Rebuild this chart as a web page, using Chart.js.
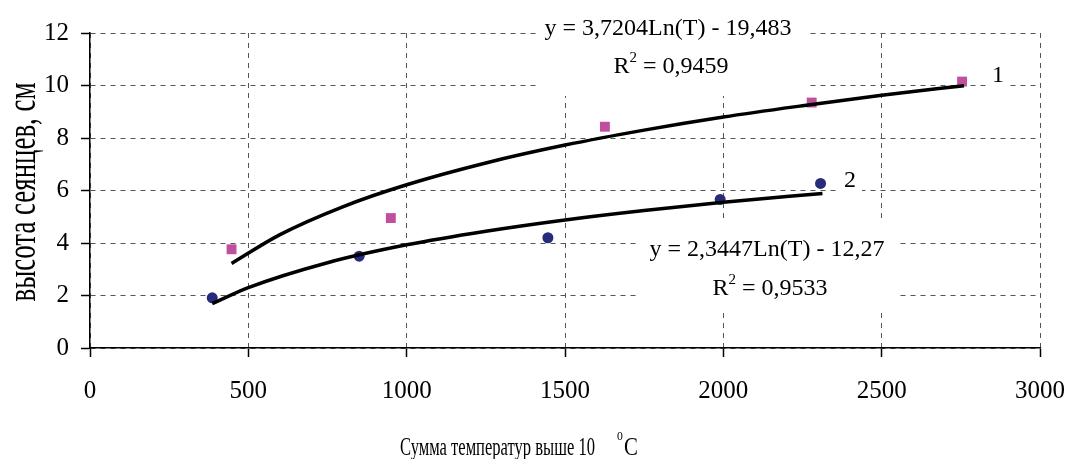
<!DOCTYPE html>
<html>
<head>
<meta charset="utf-8">
<script src="https://cdn.jsdelivr.net/npm/chart.js@4/dist/chart.umd.min.js"></script>
<style>
  html, body { margin: 0; padding: 0; background: #fff; }
  canvas { display: block; }
</style>
</head>
<body>
<canvas id="chart" width="1067" height="459"></canvas>
<script>
// Данные: сумма температур (T) и высота сеянцев, см
const temp1 = [447, 950, 1626, 2279, 2754];
const height1 = [3.76, 4.95, 8.43, 9.35, 10.15];
const temp2 = [386, 850, 1446, 1990, 2307];
const height2 = [1.91, 3.50, 4.20, 5.66, 6.27];

// Линии тренда
const trendT1 = [447, 600, 800, 1000, 1250, 1500, 1750, 2000, 2250, 2500, 2760];
const trendH1 = [3.22, 4.32, 5.39, 6.22, 7.05, 7.73, 8.30, 8.80, 9.23, 9.63, 9.99];
const trendT2 = [386, 500, 750, 1000, 1250, 1500, 1750, 2000, 2313];
const trendH2 = [1.69, 2.30, 3.25, 3.93, 4.45, 4.88, 5.24, 5.55, 5.89];

// Подписи осей
const xTicks = [0, 500, 1000, 1500, 2000, 2500, 3000];
const yTicks = [0, 2, 4, 6, 8, 10, 12];

const FONT = '"Liberation Serif", "Times New Roman", serif';

function toPoints(xs, ys) {
    return xs.map((x, i) => ({ x: x, y: ys[i] }));
}

// Рисует строку из кусков (с верхними индексами), x - левый край, y - базовая линия
function drawParts(ctx, parts, x, y, sx) {
    ctx.save();
    ctx.translate(x, y);
    ctx.scale(sx, 1);
    ctx.fillStyle = '#000';
    ctx.textBaseline = 'alphabetic';
    ctx.textAlign = 'left';
    let cx = 0;
    parts.forEach(p => {
        ctx.font = p.size + 'px ' + FONT;
        ctx.fillText(p.text, cx, -(p.rise || 0));
        cx += ctx.measureText(p.text).width;
    });
    ctx.restore();
}

function partsWidth(ctx, parts) {
    let w = 0;
    parts.forEach(p => {
        ctx.font = p.size + 'px ' + FONT;
        w += ctx.measureText(p.text).width;
    });
    return w;
}

function drawCentered(ctx, parts, cx, y) {
    const w = partsWidth(ctx, parts);
    drawParts(ctx, parts, cx - w / 2, y, 1);
}

const labelBoxes = [
    [538, 0, 808, 96],
    [638, 218, 897, 312],
    [986, 64, 1008, 86],
    [838, 166, 862, 192]
];

const annotations = {
    id: 'annotations',
    beforeDatasetsDraw(chart) {
        const ctx = chart.ctx;
        ctx.save();
        ctx.fillStyle = '#fff';
        labelBoxes.forEach(b => ctx.fillRect(b[0], b[1], b[2] - b[0], b[3] - b[1]));
        ctx.restore();
    },
    afterDraw(chart) {
        const ctx = chart.ctx;
        // уравнения трендов
        drawCentered(ctx, [{ text: 'y = 3,7204Ln(T) - 19,483', size: 24 }], 668, 35);
        drawCentered(ctx, [{ text: 'R', size: 24 }, { text: '2', size: 15, rise: 11 }, { text: ' = 0,9459', size: 24 }], 671, 73);
        drawCentered(ctx, [{ text: 'y = 2,3447Ln(T) - 12,27', size: 24 }], 767, 256);
        drawCentered(ctx, [{ text: 'R', size: 24 }, { text: '2', size: 15, rise: 11 }, { text: ' = 0,9533', size: 24 }], 770, 295);
        drawCentered(ctx, [{ text: '1', size: 24 }], 998, 82);
        drawCentered(ctx, [{ text: '2', size: 24 }], 850, 187);

        // подпись оси X
        const main = [{ text: 'Сумма температур выше 10', size: 26 }];
        drawParts(ctx, main, 400, 455, 195 / partsWidth(ctx, main));
        drawParts(ctx, [{ text: '0', size: 13 }], 617, 440, 0.9);
        drawParts(ctx, [{ text: 'C', size: 26 }], 624, 455, 0.8);

        // подпись оси Y
        const yTitle = 'высота сеянцев, см';
        ctx.save();
        ctx.font = '42px ' + FONT;
        const w = ctx.measureText(yTitle).width;
        ctx.translate(35, 192);
        ctx.rotate(-Math.PI / 2);
        ctx.scale(219 / w, 1);
        ctx.fillStyle = '#000';
        ctx.textAlign = 'center';
        ctx.textBaseline = 'alphabetic';
        ctx.fillText(yTitle, 0, 0);
        ctx.restore();
    }
};

const ctx = document.getElementById('chart').getContext('2d');
new Chart(ctx, {
    type: 'scatter',
    data: {
        datasets: [
            {
                label: 'тренд 1',
                data: toPoints(trendT1, trendH1),
                showLine: true,
                borderColor: '#000',
                borderWidth: 3.5,
                pointRadius: 0,
                tension: 0.4,
                cubicInterpolationMode: 'monotone',
                order: 0
            },
            {
                label: 'тренд 2',
                data: toPoints(trendT2, trendH2),
                showLine: true,
                borderColor: '#000',
                borderWidth: 3.5,
                pointRadius: 0,
                tension: 0.4,
                cubicInterpolationMode: 'monotone',
                order: 0
            },
            {
                label: '1',
                data: toPoints(temp1, height1),
                pointStyle: 'rect',
                pointRadius: 7,
                backgroundColor: '#C0509F',
                borderColor: '#C0509F',
                borderWidth: 0,
                order: 1
            },
            {
                label: '2',
                data: toPoints(temp2, height2),
                pointStyle: 'circle',
                pointRadius: 5.5,
                backgroundColor: '#262B7A',
                borderColor: '#262B7A',
                borderWidth: 0,
                order: 1
            }
        ]
    },
    options: {
        responsive: false,
        animation: false,
        layout: { padding: { left: 0, right: 27, top: 33, bottom: 0 } },
        plugins: {
            legend: { display: false },
            tooltip: { enabled: false }
        },
        scales: {
            x: {
                type: 'linear',
                min: 0,
                max: 3000,
                afterBuildTicks: scale => { scale.ticks = xTicks.map(v => ({ value: v })); },
                afterFit: scale => {
                    scale.height = 111;
                    scale.paddingLeft = 0;
                    scale.paddingRight = 0;
                },
                grid: {
                    color: '#555',
                    lineWidth: 1,
                    tickLength: 9,
                    tickColor: '#000',
                    tickWidth: 1.5,
                    tickBorderDash: []
                },
                border: { color: '#000', width: 1.5, dash: [5, 5] },
                ticks: {
                    color: '#000',
                    font: { family: FONT, size: 25 },
                    padding: 19,
                    maxRotation: 0,
                    callback: v => String(v)
                }
            },
            y: {
                type: 'linear',
                min: 0,
                max: 12,
                afterBuildTicks: scale => { scale.ticks = yTicks.map(v => ({ value: v })); },
                afterFit: scale => {
                    scale.width = 90;
                    scale.paddingTop = 0;
                    scale.paddingBottom = 0;
                },
                grid: {
                    color: '#555',
                    lineWidth: 1,
                    tickLength: 9,
                    tickColor: '#000',
                    tickWidth: 1.5,
                    tickBorderDash: []
                },
                border: { color: '#000', width: 1.5, dash: [5, 5] },
                ticks: {
                    color: '#000',
                    font: { family: FONT, size: 25 },
                    padding: 12,
                    callback: v => String(v)
                }
            }
        }
    },
    plugins: [annotations]
});
</script>
</body>
</html>
